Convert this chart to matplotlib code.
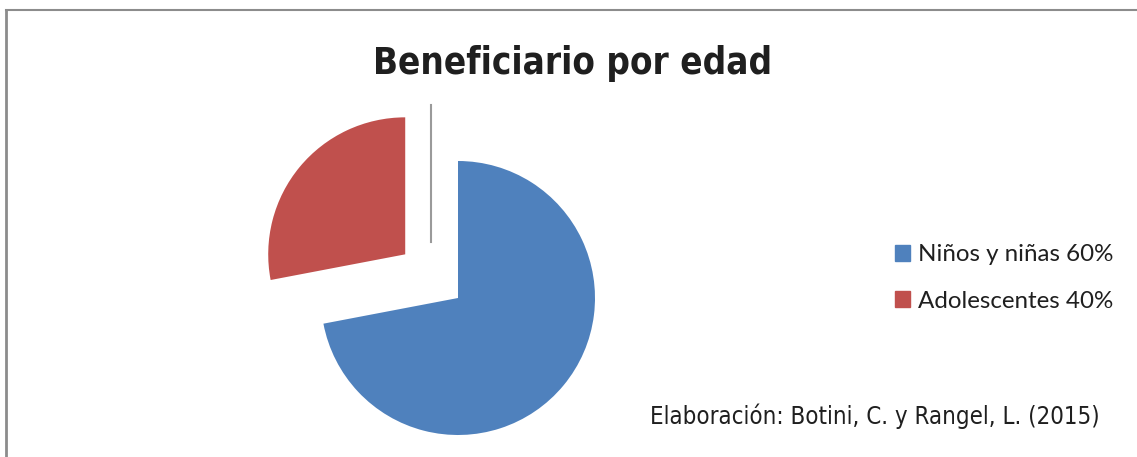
import matplotlib
matplotlib.use("Agg")
import matplotlib.pyplot as plt
from matplotlib import font_manager
from matplotlib.lines import Line2D

title = "Beneficiario por edad"
labels = ["Niños y niñas 60%", "Adolescentes 40%"]
sizes = [72, 28]
colors = ["#4F81BD", "#C0504D"]
explode = [0, 0.5]
source = "Elaboración: Botini, C. y Rangel, L. (2015)"

names = {f.name for f in font_manager.fontManager.ttflist}
legend_font = "Lato" if "Lato" in names else "DejaVu Sans"

W, H = 1137, 457
fig = plt.figure(figsize=(W / 100, H / 100), dpi=100)
ax = fig.add_axes([0, 0, 1, 1])
R = 137.0
cx, cy = 458.0, 298.0

ax.pie(sizes, colors=colors, explode=explode, startangle=90,
       counterclock=False, radius=1.0, center=(0, 0),
       wedgeprops=dict(linewidth=0), frame=True)
ax.set_xlim(-cx / R, (W - cx) / R)
ax.set_ylim(-(H - cy) / R, cy / R)
ax.set_aspect("auto")
ax.axis("off")

# thin line (zero-size wedge edge)
ax.plot([-0.2, -0.2], [0.41, 1.41], color="#9A9A9A", lw=1.5)

# frame
fig.add_artist(Line2D([6 / W, 6 / W], [0, 1 - 10 / H], color="#8C8C8C", lw=2, transform=fig.transFigure))
fig.add_artist(Line2D([6 / W, 1], [1 - 10 / H, 1 - 10 / H], color="#8C8C8C", lw=1.5, transform=fig.transFigure))

fig.text(573 / W, 1 - 74 / H, title, ha="center", va="baseline", fontsize=26.4,
         fontweight="bold", family="DejaVu Sans", fontstretch="condensed", color="#1F1F1F")

handles = [plt.Rectangle((0, 0), 1, 1, color=c) for c in colors]
leg = fig.legend(handles, labels, loc="center left", bbox_to_anchor=(895 / W, 1 - 278 / H),
                 frameon=False, prop={"family": legend_font, "size": 17.4},
                 handlelength=0.64, handleheight=0.64, handletextpad=0.3, labelspacing=1.05,
                 borderpad=0, borderaxespad=0)
for t in leg.get_texts():
    t.set_color("#1F1F1F")

fig.text(650 / W, 1 - 424 / H, source, ha="left", va="baseline", fontsize=17.2,
         family="DejaVu Sans", fontstretch="condensed", color="#1F1F1F")

fig.savefig("out.png", dpi=100)
